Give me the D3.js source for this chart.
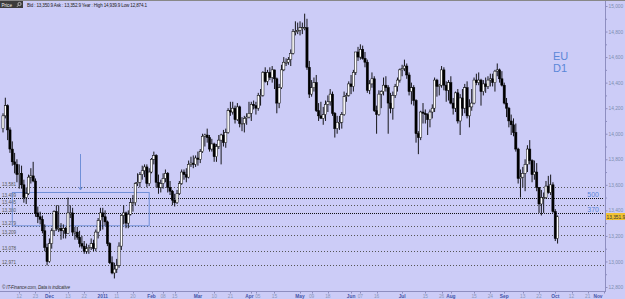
<!DOCTYPE html>
<html>
<head>
<meta charset="utf-8">
<script src="https://cdn.jsdelivr.net/npm/d3@7"></script>
<style>
body{margin:0;background:#ccccf7}
svg{display:block}
text{font-family:"Liberation Sans",Arial,sans-serif}
</style>
</head>
<body>
<svg width="625" height="299"></svg>
<script>
// EUR/USD daily, 2010-11-03 .. 2011-10-04 (x10000)
const opens = [
14040,14140,14220,14030,13880,13780,13760,13680,13690,13600,13500,13530,13660,13670,13630,13380,13350,13330,13240,13110,
13000,13140,13240,13390,13260,13260,13240,13260,13220,13380,13380,13230,13230,13190,13140,13120,13080,13100,13110,13140,13100,13230,13320,
13380,13350,13310,13140,12990,12910,12940,12970,13120,13360,13380,13300,13370,13460,13460,13610,13620,13680,13710,13740,13610,
13700,13800,13830,13620,13580,13610,13650,13690,13580,13550,13480,13460,13530,13610,13700,13680,13660,13760,13770,13760,
13810,13800,13860,13980,13990,13970,13880,13920,13820,13900,13950,13990,13930,14010,14180,14170,14200,14110,14210,14080,14080,14120,14130,
14160,14230,14220,14200,14300,14300,14480,14410,14480,14440,14500,14430,14240,14360,14500,14560,14560,14580,14630,14800,14800,
14810,14830,14830,14830,14520,14310,14360,14400,14180,14140,14120,14150,14230,14250,14310,14160,14040,14090,14090,14150,14290,14300,
14390,14370,14480,14640,14600,14660,14590,14560,14340,14390,14430,14180,14150,14310,14330,14380,14360,14240,14200,14300,14370,14420,
14500,14510,14530,14460,14330,14360,14260,14000,13970,14170,14160,14150,14110,14170,14200,14420,14370,14380,14500,14380,14340,
14400,14240,14200,14320,14100,14280,14200,14360,14140,14210,14240,14420,14400,14420,14330,14390,14370,14420,14430,14400,14490,14500,14430,
14380,14240,14200,14100,14070,14010,13880,13650,13660,13690,13760,13880,13790,13680,13700,13580,13450,13500,13500,13590,13540,13600,13390,13180
];
const highs = [
14160,14282,14230,14050,13940,13850,13800,13760,13750,13640,13580,13680,13730,13780,13650,13430,13390,13360,13290,13140,
13180,13260,13400,13440,13440,13300,13290,13270,13500,13440,13420,13270,13270,13240,13200,13160,13140,13130,13180,13170,13250,13340,13420,
13420,13400,13320,13150,13040,12990,13020,13150,13370,13440,13390,13400,13490,13520,13620,13690,13700,13750,13760,13760,13730,
13810,13860,13840,13680,13640,13690,13720,13700,13630,13560,13530,13560,13630,13720,13720,13730,13790,13820,13830,13830,
13860,13880,14000,14000,14040,13990,13960,13930,13920,13990,14000,14030,14040,14200,14250,14250,14220,14240,14220,14130,14140,14160,14250,
14250,14260,14250,14320,14350,14490,14520,14500,14520,14530,14500,14440,14390,14540,14600,14590,14600,14660,14820,14880,14870,
14880,14870,14940,14900,14570,14420,14440,14460,14240,14250,14210,14260,14300,14350,14330,14170,14140,14140,14170,14330,14320,14410,
14460,14500,14640,14680,14700,14690,14640,14580,14420,14480,14450,14220,14340,14340,14440,14450,14380,14320,14330,14390,14440,14510,
14540,14580,14550,14480,14400,14380,14270,14020,14180,14240,14190,14160,14190,14230,14440,14430,14390,14530,14520,14410,14420,
14450,14280,14330,14350,14310,14350,14390,14410,14270,14350,14440,14470,14480,14430,14420,14440,14450,14470,14470,14500,14550,14510,14490,
14400,14280,14210,14150,14120,14080,13890,13720,13740,13800,13910,13950,13800,13790,13770,13580,13560,13540,13630,13670,13680,13620,13410,13360
];
const lows = [
14010,14120,13950,13850,13750,13690,13620,13570,13570,13460,13450,13520,13610,13620,13350,13300,13290,13220,13080,12969,
12990,13100,13200,13240,13230,13170,13180,13180,13220,13340,13200,13170,13170,13110,13100,13060,13060,13060,13090,13080,13080,13180,13240,
13250,13280,13120,12980,12900,12867,12910,12950,13090,13290,13260,13260,13360,13390,13440,13590,13580,13640,13660,13580,13590,
13690,13760,13580,13530,13540,13570,13620,13540,13520,13440,13430,13450,13520,13600,13640,13620,13650,13740,13730,13740,
13750,13770,13850,13900,13930,13860,13860,13780,13780,13880,13760,13900,13890,14000,14140,14150,14080,14100,14050,14020,14010,14070,14120,
14100,14190,14150,14180,14220,14290,14400,14380,14420,14400,14350,14160,14200,14350,14490,14530,14540,14530,14620,14770,14780,
14770,14780,14810,14500,14280,14290,14330,14170,14100,14120,14070,14100,14170,14220,14140,13970,14000,14030,14040,14140,14250,14290,
14310,14330,14460,14570,14580,14580,14520,14320,14310,14360,14170,14000,14140,14200,14300,14330,14000,14160,14110,14280,14330,14400,
14450,14490,14430,14300,14230,14220,13930,13840,13950,14080,14080,13990,14050,14120,14170,14290,14300,14360,14340,14250,14260,
14230,14150,14170,14080,13990,14140,14160,14120,14050,14180,14230,14380,14380,14220,14300,14320,14350,14370,14370,14330,14450,14400,14370,
14230,14130,14050,13990,13980,13860,13610,13500,13580,13550,13700,13760,13620,13640,13550,13380,13360,13380,13490,13530,13520,13380,13160,13140
];
const closes = [
14140,14220,14030,13880,13780,13760,13680,13690,13600,13500,13530,13660,13670,13630,13380,13350,13330,13240,13110,13000,
13140,13240,13390,13260,13260,13240,13260,13220,13380,13380,13230,13230,13190,13140,13120,13080,13100,13110,13140,13100,13230,13320,13380,
13350,13310,13140,12990,12910,12940,12970,13120,13360,13380,13300,13370,13460,13460,13610,13620,13680,13710,13740,13610,13700,
13800,13830,13620,13580,13610,13650,13690,13580,13550,13480,13460,13530,13610,13700,13680,13660,13760,13770,13760,13810,
13800,13860,13980,13990,13970,13880,13920,13820,13900,13950,13990,13930,14010,14180,14170,14200,14110,14210,14080,14080,14120,14130,14160,
14230,14220,14200,14300,14300,14480,14410,14480,14440,14500,14430,14240,14360,14500,14560,14560,14580,14630,14800,14800,14810,
14830,14830,14830,14520,14310,14360,14400,14180,14140,14120,14150,14230,14250,14310,14160,14040,14090,14090,14150,14290,14300,14390,
14370,14480,14640,14600,14660,14590,14560,14340,14390,14430,14180,14150,14310,14330,14380,14360,14240,14200,14300,14370,14420,14500,
14510,14530,14460,14330,14360,14260,14000,13970,14170,14160,14150,14110,14170,14200,14420,14370,14380,14500,14380,14340,14400,
14240,14200,14320,14100,14280,14200,14360,14140,14210,14240,14420,14400,14420,14330,14390,14370,14420,14430,14400,14490,14500,14430,14380,
14240,14200,14100,14070,14010,13880,13650,13660,13690,13760,13880,13790,13680,13700,13580,13450,13500,13500,13590,13540,13600,13390,13180,13350
];

// support / resistance levels drawn on the chart
const levels = [13581, 13499, 13445, 13380, 13279, 13209, 13078, 12971];
const fibLevels = [13499, 13380];
const fibLabels = ['500', '370'];

// bottom axis ticks
const tickDates = ['2010-11-12','2010-11-23','2010-12-01','2010-12-13','2010-12-22','2011-01-03','2011-01-11','2011-01-20',
  '2011-02-01','2011-02-08','2011-02-15','2011-03-01','2011-03-10','2011-03-21','2011-04-01','2011-04-05','2011-04-15',
  '2011-05-02','2011-05-09','2011-05-18','2011-06-01','2011-06-07','2011-06-16','2011-07-01','2011-07-15','2011-07-26',
  '2011-08-01','2011-08-15','2011-08-24','2011-09-01','2011-09-13','2011-09-22','2011-10-03','2011-10-12','2011-10-21','2011-11-01'];
const tickLabels = ['12','23','Dec','13','22','2011','11','20','Feb','08','15','Mar','10','21','Apr','05','15',
  'May','09','18','Jun','07','16','Jul','15','26','Aug','15','24','Sep','13','22','Oct','12','21','Nov'];
const priceTicks = [12800,13000,13200,13400,13600,13800,14000,14200,14400,14600,14800,15000];

const lastPrice = 13351.9;
const header = 'Bid : 13,350.9 Ask : 13,352.9  Year : High 14,939.9 Low 12,874.1';

// annotations
const boxDates = ['2010-11-09','2011-01-31'], boxValues = [13540, 13279];
const arrowDate = '2010-12-20', arrowValues = [13841, 13560];

const W = 625, H = 299;
const svg = d3.select('svg');
svg.append('rect').attr('width',W).attr('height',H).attr('fill','#ccccf7');

const fmt = d3.timeFormat('%Y-%m-%d');
const days = d3.timeDay.range(new Date(2010,10,3), new Date(2011,10,2))
  .filter(d => d.getDay()!==0 && d.getDay()!==6);

const x = d3.scalePoint().domain(days.map(fmt)).range([3,604]);
const y = d3.scaleLinear().domain([12800,15000]).range([287,6]);

const candles = opens.map((o,i)=>({date:fmt(days[i]), o:o, h:highs[i], l:lows[i], c:closes[i]}));

svg.append('clipPath').attr('id','plot').append('rect')
  .attr('x',0).attr('y',9).attr('width',605).attr('height',282);
const plot = svg.append('g').attr('clip-path','url(#plot)');

// levels
plot.selectAll('.level').data(levels).join('line')
  .attr('class','level')
  .attr('x1',0).attr('x2',604)
  .attr('y1',d=>Math.round(y(d))+.5).attr('y2',d=>Math.round(y(d))+.5)
  .attr('stroke',d=>fibLevels.includes(d)?'#111':'#555')
  .attr('stroke-width',1)
  .attr('stroke-dasharray',d=>fibLevels.includes(d)?'1,1':'1,2');

plot.selectAll('.lvl-label').data(levels).join('text')
  .attr('class','lvl-label')
  .attr('x',2).attr('y',d=>Math.round(y(d))-1)
  .attr('font-size',4.6).attr('fill','#555')
  .text(d=>d3.format(',')(d));

plot.selectAll('.fib').data(fibLevels).join('text')
  .attr('class','fib')
  .attr('x',599).attr('y',(d)=>Math.round(y(d))-1.5)
  .attr('text-anchor','end')
  .attr('font-size',7).attr('fill','#5b87d8')
  .text((d,i)=>fibLabels[i]);

// box and arrow
plot.append('rect')
  .attr('x',x(boxDates[0])).attr('y',y(boxValues[0]))
  .attr('width',x(boxDates[1])-x(boxDates[0]))
  .attr('height',y(boxValues[1])-y(boxValues[0]))
  .attr('fill','none').attr('stroke','#6f8fd8').attr('stroke-width',1);

const ax = Math.round(x(arrowDate))+.5;
plot.append('line')
  .attr('x1',ax).attr('x2',ax)
  .attr('y1',y(arrowValues[0])).attr('y2',y(arrowValues[1]))
  .attr('stroke','#6f8fd8');
plot.append('path')
  .attr('d',`M${ax-2},${y(arrowValues[1])-3}L${ax},${y(arrowValues[1])}L${ax+2},${y(arrowValues[1])-3}`)
  .attr('fill','none').attr('stroke','#6f8fd8');

// candles
const cg = plot.append('g');
cg.selectAll('.wick').data(candles).join('line')
  .attr('class','wick')
  .attr('x1',d=>x(d.date)).attr('x2',d=>x(d.date))
  .attr('y1',d=>y(d.h)).attr('y2',d=>y(d.l))
  .attr('stroke','#000').attr('stroke-width',0.9);

cg.selectAll('.body').data(candles).join('rect')
  .attr('class','body')
  .attr('x',d=>x(d.date)-1.1)
  .attr('width',2.2)
  .attr('y',d=>y(Math.max(d.o,d.c)))
  .attr('height',d=>Math.max(1,Math.abs(y(d.o)-y(d.c))))
  .attr('fill',d=>d.c>=d.o?'#fff':'#000')
  .attr('stroke','#000').attr('stroke-width',0.5);

// EU D1
svg.append('text').attr('x',553).attr('y',60).attr('font-size',11).attr('fill','#5b87d8').text('EU');
svg.append('text').attr('x',553).attr('y',71.5).attr('font-size',11).attr('fill','#5b87d8').text('D1');

// right price axis
svg.append('line').attr('x1',605.5).attr('x2',605.5).attr('y1',0).attr('y2',291)
  .attr('stroke','#8e8ec0');
const yAxis = svg.append('g').attr('transform','translate(605.5,0)')
  .call(d3.axisRight(y).tickValues(priceTicks).tickSize(2).tickPadding(1).tickFormat(d3.format(',')));
yAxis.select('.domain').remove();
yAxis.selectAll('line').attr('stroke','#8e8ec0');
yAxis.selectAll('text').attr('font-size',4.8).attr('fill','#7d8cb0').attr('font-family','"Liberation Sans",Arial,sans-serif');
const yMinor = svg.append('g').attr('transform','translate(605.5,0)')
  .call(d3.axisRight(y).tickValues(priceTicks.slice(0,-1).map(v=>v+100)).tickSize(1.5).tickFormat(''));
yMinor.select('.domain').remove();
yMinor.selectAll('line').attr('stroke','#8e8ec0');

// last price tag
svg.append('rect').attr('x',606).attr('y',y(lastPrice)-3.5).attr('width',19).attr('height',7).attr('fill','#f1c232');
svg.append('text').attr('x',606.5).attr('y',y(lastPrice)+2).attr('font-size',4.8).attr('fill','#333')
  .text(d3.format(',.1f')(lastPrice));

// bottom date axis
svg.append('line').attr('x1',0).attr('x2',606).attr('y1',291.5).attr('y2',291.5).attr('stroke','#8e8ec0');
const months = ['Dec','2011','Feb','Mar','Apr','May','Jun','Jul','Aug','Sep','Oct','Nov'];
const xt = svg.append('g');
xt.selectAll('line').data(tickDates).join('line')
  .attr('x1',d=>Math.round(x(d))+.5).attr('x2',d=>Math.round(x(d))+.5)
  .attr('y1',291).attr('y2',293.5).attr('stroke','#8e8ec0');
const xLabels = xt.selectAll('text').data(tickDates).join('text')
  .attr('x',d=>Math.min(x(d),598)).attr('y',297.5)
  .attr('text-anchor','middle')
  .attr('font-size',4.8)
  .attr('font-weight',(d,i)=>months.includes(tickLabels[i])?'bold':'normal')
  .attr('fill',(d,i)=>months.includes(tickLabels[i])?'#4455a8':'#8a96ba')
  .text((d,i)=>tickLabels[i]);

// push apart labels that collide
const lbl = xLabels.nodes();
for (let i=1;i<lbl.length;i++){
  const a=lbl[i-1].getBBox(), b=lbl[i].getBBox();
  const gap = b.x - (a.x+a.width);
  if (gap < 1.5){
    const s=(1.5-gap)/2;
    lbl[i-1].setAttribute('x', +lbl[i-1].getAttribute('x')-s);
    lbl[i].setAttribute('x', +lbl[i].getAttribute('x')+s);
  }
}

// header
svg.append('line').attr('x1',0).attr('x2',W).attr('y1',0.5).attr('y2',0.5).attr('stroke','#888');
svg.append('rect').attr('x',0).attr('y',1).attr('width',23).attr('height',7).attr('fill','#3c3c3c');
svg.append('text').attr('x',1.5).attr('y',6.5).attr('font-size',4.6).attr('fill','#eee').text('Price');
svg.append('circle').attr('cx',19.5).attr('cy',4).attr('r',1.6).attr('fill','none').attr('stroke','#ddd').attr('stroke-width',0.7);
svg.append('line').attr('x1',18.3).attr('x2',17).attr('y1',5.2).attr('y2',6.8).attr('stroke','#ddd').attr('stroke-width',0.8);
svg.append('text').attr('x',27).attr('y',6.5).attr('font-size',4.6).attr('fill','#222')
  .attr('textLength',120).text(header);

// footer
svg.append('text').attr('x',2).attr('y',288.5).attr('font-size',4.6).attr('font-style','italic').attr('fill','#333')
  .attr('textLength',68).text('© IT-Finance.com, Data is indicative');
</script>
</body>
</html>
